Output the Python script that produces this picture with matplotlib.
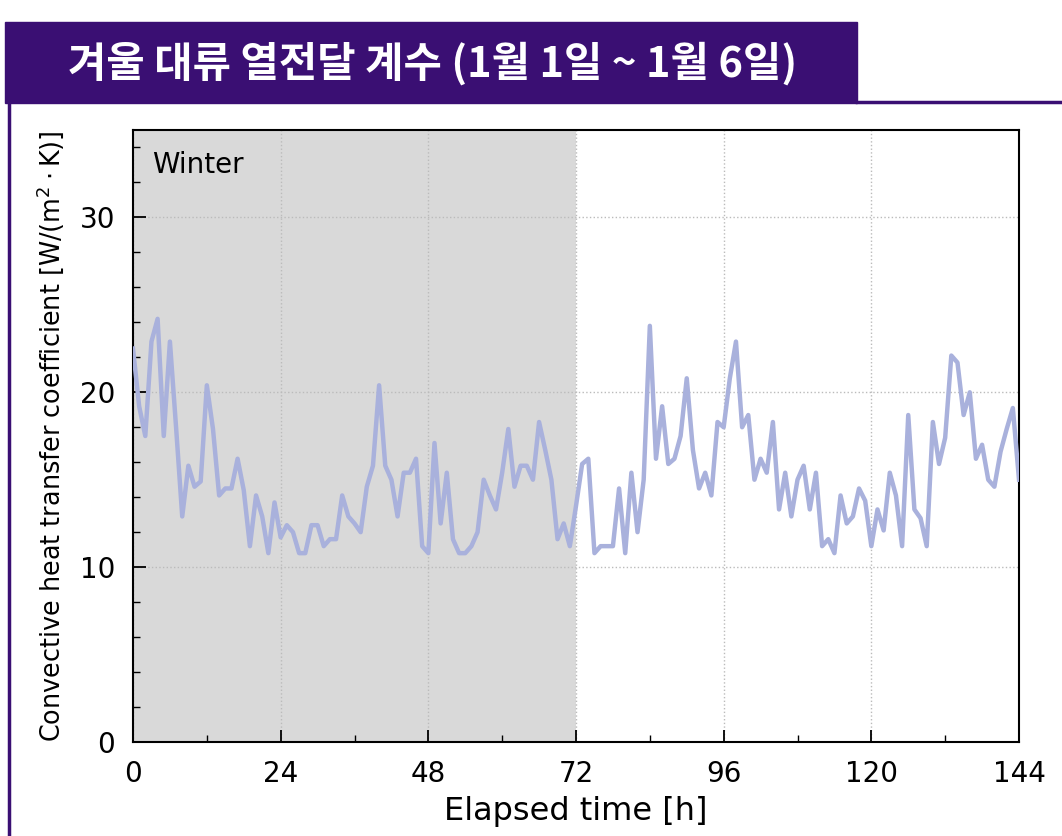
import numpy as np
import matplotlib
matplotlib.use("Agg")
import matplotlib.pyplot as plt
from matplotlib.patches import Rectangle
from matplotlib.lines import Line2D

# hourly convective heat transfer coefficient, 1 Jan 00:00 to 7 Jan 00:00
hours = np.arange(0, 145)
h_conv = [
    22.5, 19.2, 17.5, 22.9, 24.2, 17.5, 22.9, 18.0, 12.9, 15.8,
    14.6, 14.9, 20.4, 17.9, 14.1, 14.5, 14.5, 16.2, 14.4, 11.2,
    14.1, 12.9, 10.8, 13.7, 11.7, 12.4, 12.0, 10.8, 10.8, 12.4,
    12.4, 11.2, 11.6, 11.6, 14.1, 12.9, 12.5, 12.0, 14.6, 15.8,
    20.4, 15.8, 15.0, 12.9, 15.4, 15.4, 16.2, 11.2, 10.8, 17.1,
    12.5, 15.4, 11.6, 10.8, 10.8, 11.2, 12.0, 15.0, 14.1, 13.3,
    15.4, 17.9, 14.6, 15.8, 15.8, 15.0, 18.3, 16.7, 15.0, 11.6,
    12.5, 11.2, 13.5, 15.9, 16.2, 10.8, 11.2, 11.2, 11.2, 14.5,
    10.8, 15.4, 12.0, 15.0, 23.8, 16.2, 19.2, 15.9, 16.2, 17.5,
    20.8, 16.7, 14.5, 15.4, 14.1, 18.3, 18.0, 20.8, 22.9, 18.0,
    18.7, 15.0, 16.2, 15.4, 18.3, 13.3, 15.4, 12.9, 15.0, 15.8,
    13.3, 15.4, 11.2, 11.6, 10.8, 14.1, 12.5, 12.9, 14.5, 13.8,
    11.2, 13.3, 12.1, 15.4, 14.1, 11.2, 18.7, 13.3, 12.8, 11.2,
    18.3, 15.9, 17.4, 22.1, 21.7, 18.7, 20.0, 16.2, 17.0, 15.0,
    14.6, 16.6, 17.9, 19.1, 15.0,
]
x_ticks = [0, 24, 48, 72, 96, 120, 144]
y_ticks = [0, 10, 20, 30]
shade_end = 72
title = "겨울 대류 열전달 계수 (1월 1일 ~ 1월 6일)"

purple = "#3a0f73"
line_color = "#a9b1dc"

fig = plt.figure(figsize=(10.62, 8.36), dpi=100)
W, H = 1062, 836

# header banner and frame lines
fig.patches.append(Rectangle((5 / W, 1 - 103 / H), 852 / W, 81 / H,
                             transform=fig.transFigure, color=purple, zorder=0))
fig.lines.append(Line2D([857 / W, 1], [1 - 101.5 / H] * 2, transform=fig.transFigure,
                        color=purple, lw=2.5))
fig.lines.append(Line2D([9 / W] * 2, [0, 1 - 103 / H], transform=fig.transFigure,
                        color=purple, lw=2.5))
fig.text(68 / W, 1 - 64 / H, title, color="white", fontsize=30, fontweight="bold",
         family=["Noto Sans CJK KR", "DejaVu Sans"], va="center", ha="left")

ax = fig.add_axes([133 / W, 94 / H, 886 / W, 612 / H])
ax.axvspan(0, shade_end, color="#d9d9d9", lw=0, zorder=0)
ax.plot(hours, h_conv, color=line_color, lw=3.2, zorder=3)

ax.set_xlim(0, 144)
ax.set_ylim(0, 35)
ax.set_xticks(x_ticks)
ax.set_yticks(y_ticks)
ax.set_xticks(np.arange(0, 145, 12), minor=True)
ax.set_yticks(np.arange(0, 35, 2), minor=True)
ax.tick_params(which="both", direction="in", top=False, right=False)
ax.tick_params(which="major", length=9, width=1.3, labelsize=20)
ax.tick_params(axis="x", which="major", pad=13)
ax.tick_params(axis="y", which="major", pad=13)
ax.tick_params(which="minor", length=5, width=1.0)
ax.grid(True, which="major", ls=":", color="#bbbbbb", lw=1.0, zorder=1)
for s in ax.spines.values():
    s.set_linewidth(1.5)

ax.set_xlabel("Elapsed time [h]", fontsize=23, labelpad=6)
ax.set_ylabel(r"Convective heat transfer coefficient [W/(m$^2\cdot$K)]", fontsize=18.4, labelpad=10)
ax.text(0.021, 0.965, "Winter", transform=ax.transAxes, fontsize=20, va="top", ha="left")

fig.savefig("out.png", dpi=100)
